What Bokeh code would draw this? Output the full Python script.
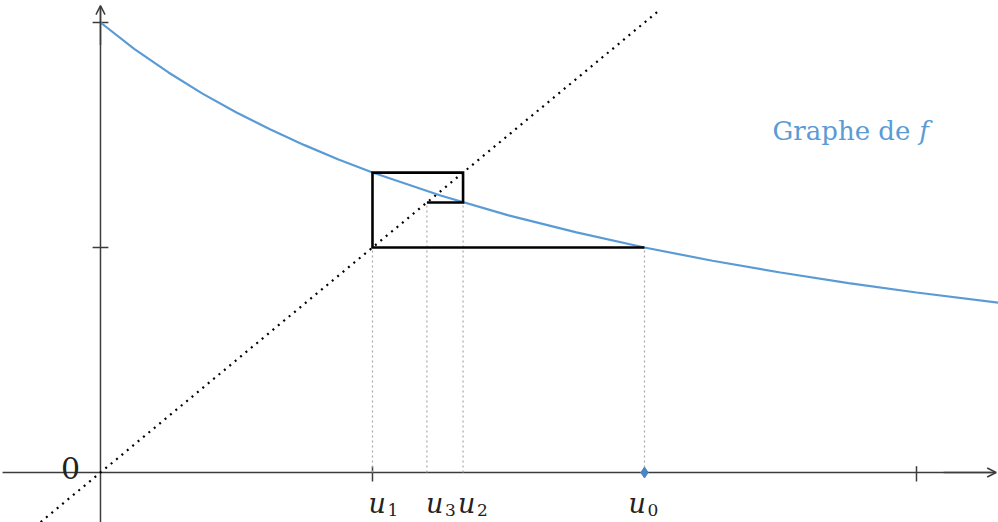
from bokeh.plotting import figure
from bokeh.models import ColumnDataSource, Arrow, OpenHead
from bokeh.core.properties import value
from bokeh.embed import file_html
from bokeh.resources import INLINE

# ---- data ----
curve_x = [0, 0.125, 0.25, 0.375, 0.5, 0.625, 0.75, 0.875, 1.0, 1.25, 1.5, 1.75,
           2.0, 2.25, 2.5, 2.75, 3.0, 3.3]
curve_y = [2.0, 1.882, 1.778, 1.684, 1.6, 1.524, 1.455, 1.391, 1.333, 1.231,
           1.143, 1.067, 1.0, 0.941, 0.889, 0.842, 0.8, 0.755]
u_values = [2.0, 1.0, 1.333, 1.2]          # u0, u1, u2, u3
u_names = ["0", "1", "2", "3"]
diag_x = [-0.22, 2.06]
y_ticks = [1.0, 2.0]
x_ticks = [1.0, 3.0]
title_text = "Graphe de "
title_var = "f"

BLUE = "#5B9BD5"
AXIS = "#3c3c3c"

p = figure(width=998, height=522, x_range=(-0.3676, 3.3015), y_range=(-0.2222, 2.0978),
           output_backend="svg", toolbar_location=None, min_border=0)
p.axis.visible = False
p.grid.visible = False
p.outline_line_color = None
p.background_fill_color = "white"
p.border_fill_color = "white"

# axes
p.segment(x0=[-0.36], y0=[0], x1=[3.29], y1=[0], line_color=AXIS, line_width=1.5)
p.segment(x0=[0], y0=[-0.23], x1=[0], y1=[2.07], line_color=AXIS, line_width=1.5)
p.add_layout(Arrow(end=OpenHead(size=9, line_color=AXIS, line_width=1.5),
                   x_start=3.1, y_start=0, x_end=3.293, y_end=0,
                   line_color=AXIS, line_width=1.5))
p.add_layout(Arrow(end=OpenHead(size=9, line_color=AXIS, line_width=1.5),
                   x_start=0, y_start=1.9, x_end=0, y_end=2.075,
                   line_color=AXIS, line_width=1.5))
# ticks
p.segment(x0=[-0.029] * len(y_ticks), y0=y_ticks, x1=[0.029] * len(y_ticks), y1=y_ticks,
          line_color=AXIS, line_width=1.5)
p.segment(x0=x_ticks, y0=[0.028] * len(x_ticks), x1=x_ticks, y1=[-0.04] * len(x_ticks),
          line_color=AXIS, line_width=1.5)

# diagonal y = x
p.line(x=diag_x, y=diag_x, line_color="black", line_width=2.2, line_dash="2 5")

# curve
p.line(x=curve_x, y=curve_y, line_color=BLUE, line_width=2.2)

# dotted verticals from the x axis
u0, u1, u2, u3 = u_values
p.segment(x0=[u0, u1, u2, u3], y0=[0, 0, 0, 0], x1=[u0, u1, u2, u3], y1=[u1, u1, u3, u3],
          line_color="#a8a8a8", line_width=1.2, line_dash="2 3")

# cobweb
web_x = [u0, u1, u1, u2, u2, u3]
web_y = [u1, u1, u2, u2, u3, u3]
p.line(x=web_x, y=web_y, line_color="black", line_width=2.6, line_join="miter")

# u0 marker
p.scatter(x=[u0], y=[0], marker="diamond", size=11, fill_color="#4a86c5", line_color="#4a86c5")

# labels
dx = [-16, -4, -5, -1]
lab = ColumnDataSource(dict(x=u_values, u=["u"] * 4, sub=u_names,
                            dx=dx, sdx=[d + 19 for d in dx]))
p.text(x="x", y=-0.138, text="u", x_offset="dx", source=lab,
       text_font=value("DejaVu Serif"), text_font_style="italic", text_font_size="27px",
       text_color="#222222", text_align="left", text_baseline="alphabetic")
p.text(x="x", y=-0.168, text="sub", x_offset="sdx", source=lab,
       text_font=value("DejaVu Serif"), text_font_size="17px",
       text_color="#222222", text_align="left", text_baseline="alphabetic")

p.text(x=[-0.11], y=[0.018], text=["0"], text_font=value("DejaVu Serif"),
       text_font_size="30px", text_color="#222222", text_align="center",
       text_baseline="alphabetic")

p.text(x=[2.471], y=[1.52], text=[title_text], text_font=value("DejaVu Serif"),
       text_font_size="26px", text_color=BLUE, text_align="left", text_baseline="alphabetic")
p.text(x=[3.01], y=[1.52], text=[title_var], text_font=value("DejaVu Serif"),
       text_font_style="italic", text_font_size="26px", text_color=BLUE,
       text_align="left", text_baseline="alphabetic")

open("out.html", "w").write(file_html(p, INLINE))
